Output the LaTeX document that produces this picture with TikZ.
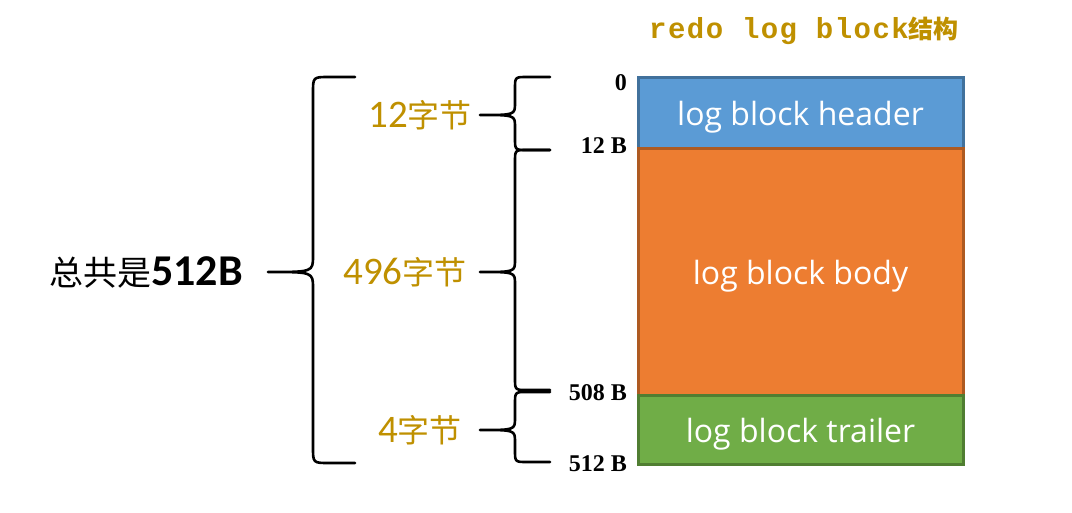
\documentclass[tikz,border=0pt]{standalone}
\usepackage{fontspec}
\usetikzlibrary{positioning}
\newfontfamily\cjkfont{Noto Sans CJK SC}
\newfontfamily\numfont{Carlito}
\newfontfamily\boxfont{Open Sans}
\newfontfamily\codefont[LetterSpace=5]{Liberation Mono}
\newfontfamily\markfont{Liberation Serif}
\definecolor{sizegold}{RGB}{191, 144, 0}
\definecolor{headfill}{RGB}{91, 155, 213}
\definecolor{headline}{RGB}{65, 113, 156}
\definecolor{bodyfill}{RGB}{237, 125, 49}
\definecolor{bodyline}{RGB}{174, 90, 33}
\definecolor{trailfill}{RGB}{112, 173, 71}
\definecolor{trailline}{RGB}{80, 126, 50}

% brace open to the right: [radius]{x end}{x spine}{x tip}{y top}{y tip}{y bottom}
\newcommand{\sizebrace}[7][12]{%
  \draw[bracestroke] (#2,#5) -- (#3+#1,#5) .. controls (#3,#5) .. (#3,#5+#1)
    -- (#3,#6-#1) .. controls (#3,#6) .. (#4,#6)
    .. controls (#3,#6) .. (#3,#6+#1)
    -- (#3,#7-#1) .. controls (#3,#7) .. (#3+#1,#7) -- (#2,#7);}

\tikzset{
  bracestroke/.style={line width=2.6pt, line join=round, line cap=round},
  partbox/.style={rectangle, line width=3pt, minimum width=325pt, outer sep=0pt,
    inner sep=0pt, text height=25pt, text depth=0pt, text=white,
    font=\boxfont\fontsize{32}{38}\selectfont},
  offsetmark/.style={anchor=east, inner sep=0pt, font=\markfont\bfseries\fontsize{24}{28}\selectfont},
  sizelabel/.style={inner sep=0pt, text=sizegold}
}

\begin{document}
\begin{tikzpicture}[x=1pt, y=-1pt]
  \useasboundingbox (0,0) rectangle (1072,512);

  \node (title) at (804,31) {\fontsize{29}{32}\selectfont\color{sizegold}%
    {\codefont\bfseries redo log block}{\cjkfont\bfseries\fontsize{25}{28}\selectfont 结构}};

  % the three parts of the block
  \node[partbox, fill=headfill, draw=headline, minimum height=71pt] (header) at (800.5,112.5) {log block header};
  \node[partbox, fill=bodyfill, draw=bodyline, minimum height=247pt, below=0pt of header] (body) {log block body};
  \node[partbox, fill=trailfill, draw=trailline, minimum height=69pt, below=0pt of body] (trailer) {log block trailer};

  % offsets
  \node[offsetmark] (off0) at (627,83) {0};
  \node[offsetmark] (off12) at (627,146) {12 B};
  \node[offsetmark] (off508) at (627,393) {508 B};
  \node[offsetmark] (off512) at (627,464) {512 B};

  % sizes of the parts
  \sizebrace{550}{515}{480}{77}{115}{150}
  \sizebrace{550}{515}{480}{150}{272}{390}
  \sizebrace{550}{515}{480}{392}{430}{462}
  \node[sizelabel] (size12) at (420,115) {{\numfont\fontsize{39}{42}\selectfont 12}{\cjkfont\fontsize{32}{36}\selectfont 字节}};
  \node[sizelabel] (size496) at (405,272) {{\numfont\fontsize{39}{42}\selectfont 496}{\cjkfont\fontsize{32}{36}\selectfont 字节}};
  \node[sizelabel] (size4) at (420,430) {{\numfont\fontsize{39}{42}\selectfont 4}{\cjkfont\fontsize{32}{36}\selectfont 字节}};

  % total
  \sizebrace[16]{355}{313}{268}{77}{272}{463}
  \node[inner sep=0pt] (total) at (146,272) {{\cjkfont\fontsize{34}{38}\selectfont 总共是}{\numfont\bfseries\fontsize{44}{48}\selectfont 512B}};
\end{tikzpicture}
\end{document}
